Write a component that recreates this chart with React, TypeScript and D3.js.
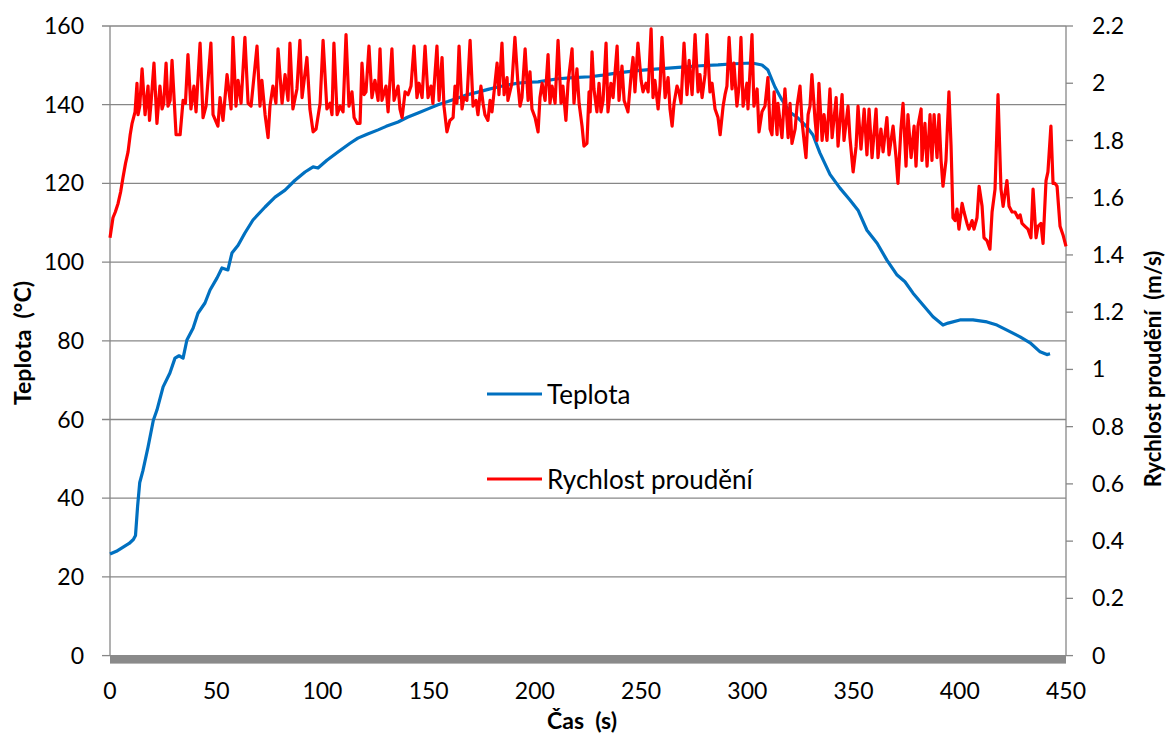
import React from "react";
import * as d3 from "d3";

// ---- data ----
const xTicks = [0, 50, 100, 150, 200, 250, 300, 350, 400, 450];
const leftTicks = [0, 20, 40, 60, 80, 100, 120, 140, 160];
const rightTicks = [0, 0.2, 0.4, 0.6, 0.8, 1, 1.2, 1.4, 1.6, 1.8, 2, 2.2];
const rightTickLabels = ["0", "0.2", "0.4", "0.6", "0.8", "1", "1.2", "1.4", "1.6", "1.8", "2", "2.2"];

const seriesNames = ["Teplota", "Rychlost proudění"];

// Teplota (°C) vs. time (s)
const tempTime = [0, 3, 6, 9, 11, 12, 13, 14, 15.5, 17.9, 20.4, 22.1, 25, 28.2, 30.6, 32.5, 34.4, 36.2, 39.1, 41.4, 44.7, 47.1, 50.4, 52.7, 55.5, 57.4, 60.3, 63.5, 67.3, 73, 77.7, 82.4, 87.1, 91.8, 95.6, 97.9, 102.1, 107.3, 113, 116.7, 121, 126.2, 130, 135.6, 140, 145, 150, 154.4, 159, 163.8, 168, 173.2, 178, 182.6, 187, 192.1, 197, 201.5, 206, 210.9, 218, 226, 232, 239.1, 247, 255.1, 263, 270.7, 278, 286.2, 294, 302.2, 306.9, 309.7, 313, 316.3, 320.1, 323.9, 328.1, 330.9, 334.2, 338.9, 343.6, 348.3, 352.1, 356.3, 361.1, 365.7, 370.5, 374.2, 378, 382.7, 387.4, 392.1, 394.5, 400.1, 406.2, 412.8, 417.5, 422.2, 428.4, 433.1, 437.8, 441, 442.5];
const tempValue = [25.8, 26.5, 27.5, 28.5, 29.5, 30.5, 38, 44, 47, 53, 59.8, 62.4, 68.3, 71.8, 75.6, 76.2, 75.6, 80.2, 83.2, 87, 89.6, 92.9, 96, 98.5, 98, 102.3, 104.3, 107.4, 110.7, 114, 116.5, 118.3, 120.8, 122.9, 124.2, 123.9, 125.9, 128, 130.2, 131.5, 132.5, 133.6, 134.5, 135.6, 136.8, 137.9, 139, 140, 140.8, 141.7, 142.5, 143.2, 143.9, 144.5, 145, 145.5, 145.7, 145.8, 146.2, 146.6, 146.9, 147.1, 147.5, 148.1, 148.6, 149, 149.3, 149.6, 149.9, 150.1, 150.4, 150.6, 150.1, 148.8, 144.5, 141.2, 138.1, 136.6, 134.3, 132.3, 127.7, 122.3, 118.8, 115.8, 113.2, 108.1, 104.8, 100.5, 96.7, 95, 92.1, 89.1, 86.1, 84, 84.5, 85.3, 85.3, 84.8, 84, 82.7, 81, 79.5, 77.2, 76.5, 76.7];

// Rychlost proudění (m/s) vs. time (s): [time, value]
const speed: [number, number][] = [
  [0, 1.46], [1.4, 1.53], [2.5, 1.55], [3.8, 1.58], [5, 1.62], [6.1, 1.67], [7.3, 1.72], [8.5, 1.76], [9.5, 1.82], [10.4, 1.86],
  [11.8, 1.9], [12.7, 2.0], [13.2, 1.89], [14, 1.92], [15.1, 2.05], [16.5, 1.89], [17.9, 1.99], [18.6, 1.87], [19.3, 1.93], [20.7, 2.07],
  [22.1, 1.86], [23.5, 1.99], [24.5, 1.91], [25.3, 1.93], [26.4, 2.07], [27.3, 1.92], [28.3, 1.94], [29.2, 2.08], [31.1, 1.82], [33.0, 1.82],
  [34.4, 1.94], [35.5, 1.93], [36.7, 2.1], [38.1, 1.91], [39.5, 1.99], [40.5, 1.9], [42.4, 2.14], [43.8, 1.88], [45.2, 1.92], [47.5, 2.14],
  [48.5, 1.89], [50.8, 1.85], [51.8, 1.95], [53.2, 1.87], [55.1, 2.03], [57.0, 1.91], [57.9, 2.16], [59.3, 1.92], [60.3, 2.01], [61.7, 1.93],
  [63.5, 2.16], [65.0, 1.93], [66.4, 1.92], [69.2, 2.13], [70.6, 1.92], [71.5, 2.01], [73.0, 1.89], [74.4, 1.81], [75.3, 1.92], [76.7, 1.99],
  [78.1, 1.93], [79.1, 2.12], [81.0, 1.93], [82.4, 2.03], [83.8, 1.94], [84.7, 2.14], [86.1, 1.91], [88.0, 1.98], [89.4, 2.15], [90.4, 1.95],
  [92.7, 2.09], [94.1, 1.91], [95.6, 1.83], [97.0, 1.84], [98.9, 1.93], [100.3, 2.15], [102.1, 1.91], [103.6, 1.93], [104.5, 1.89], [105.4, 2.14],
  [106.9, 1.89], [108.3, 1.92], [109.7, 1.9], [111.1, 2.17], [112.5, 1.92], [113.9, 1.97], [114.9, 1.88], [116.3, 1.86], [117.7, 1.86], [118.6, 2.07],
  [119.6, 1.96], [120.5, 1.97], [121.9, 2.13], [123.3, 1.95], [124.7, 2.01], [126.2, 1.94], [127.1, 2.12], [128.0, 1.94], [129.9, 1.99], [130.9, 1.9],
  [132.7, 2.12], [133.7, 1.94], [135.6, 1.99], [136.5, 1.91], [137.5, 1.88], [138.9, 1.97], [140.3, 1.96], [141.7, 1.99], [143.1, 2.13], [144.5, 1.95],
  [145.5, 2.0], [146.9, 1.95], [148.3, 2.13], [149.7, 1.95], [151.1, 1.99], [152.0, 1.93], [153.9, 2.13], [154.9, 1.94], [156.3, 2.09], [157.2, 1.92],
  [158.6, 1.83], [160.0, 1.87], [161.5, 1.88], [162.4, 1.99], [163.3, 1.93], [164.3, 2.13], [165.7, 1.91], [166.6, 1.95], [168.0, 1.94], [169.5, 2.15],
  [170.9, 1.92], [172.3, 1.94], [173.2, 1.89], [174.6, 1.99], [175.6, 1.93], [176.5, 1.89], [177.9, 1.87], [178.9, 1.94], [179.8, 1.9], [182.2, 2.07],
  [183.1, 1.96], [184.5, 2.14], [185.5, 1.96], [186.9, 2.02], [187.3, 1.94], [189.2, 2.0], [190.6, 2.16], [192.1, 1.99], [193.0, 1.92], [193.9, 1.95],
  [195.4, 2.12], [196.8, 1.94], [197.7, 2.04], [198.6, 1.91], [200.1, 1.88], [201.5, 1.83], [202.4, 1.95], [203.4, 2.0], [204.8, 1.94], [206.2, 2.1],
  [207.1, 1.93], [208.1, 1.99], [209.5, 1.93], [210.9, 2.15], [212.3, 1.93], [213.2, 1.99], [214.6, 1.87], [215.6, 2.0], [217.5, 2.12], [218.4, 1.93],
  [219.8, 2.05], [220.8, 1.93], [222.2, 1.85], [223.1, 1.78], [224.5, 1.79], [225.5, 1.97], [226.0, 1.9], [226.9, 2.11], [227.8, 1.98], [229.2, 1.9],
  [230.2, 2.0], [231.1, 1.9], [232.1, 1.94], [233.5, 2.14], [234.4, 1.9], [235.8, 2.0], [236.8, 1.95], [238.7, 2.13], [239.6, 1.94], [241.0, 2.06],
  [242.0, 1.94], [243.4, 1.91], [243.8, 1.9], [245.3, 2.03], [246.2, 2.09], [247.1, 1.97], [248.5, 2.14], [250.0, 2.01], [250.9, 1.97], [252.3, 2.0],
  [253.3, 1.97], [254.7, 2.19], [255.6, 1.95], [256.5, 2.01], [258.0, 1.91], [258.9, 1.99], [259.8, 2.16], [261.3, 1.95], [262.7, 2.02], [263.6, 1.91],
  [264.6, 1.85], [265.5, 1.93], [266.9, 1.99], [267.8, 1.97], [268.8, 1.93], [270.2, 2.14], [271.6, 1.96], [272.6, 2.08], [274.0, 1.96], [275.4, 2.17],
  [276.8, 1.97], [277.7, 2.03], [278.7, 1.95], [280.1, 2.03], [281.0, 2.17], [282.4, 1.97], [283.4, 2.0], [284.8, 1.91], [286.2, 1.88], [287.2, 1.82],
  [288.6, 1.92], [289.5, 1.96], [290.4, 1.99], [291.4, 2.16], [292.8, 1.98], [293.7, 2.07], [295.1, 1.92], [296.1, 1.99], [297.0, 2.16], [298.0, 1.92],
  [299.8, 2.0], [300.3, 1.91], [302.2, 2.17], [303.1, 1.92], [304.6, 1.98], [305.5, 1.83], [306.9, 1.9], [308.3, 1.92], [309.7, 2.02], [310.7, 1.84],
  [311.6, 1.82], [312.6, 1.97], [314.0, 1.82], [314.4, 1.93], [316.3, 1.81], [317.7, 1.98], [319.2, 1.81], [320.1, 1.93], [321.0, 1.79], [322.5, 1.84],
  [323.4, 1.92], [324.8, 1.99], [325.7, 1.87], [326.7, 1.8], [327.6, 1.74], [328.6, 1.89], [329.5, 1.92], [330.4, 2.03], [331.9, 1.87], [332.8, 1.8],
  [333.7, 2.0], [335.2, 1.8], [336.1, 1.89], [337.5, 1.8], [338.9, 1.98], [339.9, 1.81], [341.8, 1.95], [342.7, 1.78], [344.6, 1.96], [345.5, 1.8],
  [347.4, 1.92], [348.3, 1.81], [349.8, 1.69], [351.2, 1.78], [352.1, 1.92], [353.5, 1.77], [355.0, 1.91], [356.3, 1.75], [357.3, 1.91], [358.7, 1.74],
  [360.6, 1.91], [361.5, 1.74], [362.9, 1.84], [363.9, 1.76], [365.7, 1.88], [366.7, 1.75], [368.6, 1.85], [370.0, 1.74], [370.9, 1.65], [372.3, 1.84],
  [373.3, 1.93], [374.7, 1.71], [375.6, 1.89], [377.1, 1.74], [378.5, 1.85], [379.4, 1.71], [380.3, 1.85], [381.8, 1.91], [382.2, 1.73], [383.6, 1.86],
  [384.6, 1.71], [386.0, 1.89], [386.9, 1.73], [387.9, 1.89], [389.3, 1.74], [390.2, 1.89], [391.2, 1.73], [392.1, 1.64], [393.5, 1.73], [394.9, 1.97],
  [395.9, 1.78], [396.8, 1.53], [397.8, 1.52], [398.7, 1.56], [399.6, 1.49], [401.1, 1.58], [402.0, 1.55], [403.4, 1.51], [404.3, 1.49], [405.8, 1.52],
  [406.7, 1.49], [408.1, 1.53], [409.1, 1.64], [410.5, 1.57], [411.4, 1.46], [412.8, 1.45], [414.2, 1.42], [415.2, 1.55], [416.6, 1.63], [418.0, 1.96],
  [419.4, 1.63], [420.4, 1.57], [422.2, 1.66], [423.2, 1.57], [424.6, 1.55], [426.0, 1.55], [427.4, 1.53], [428.4, 1.54], [429.3, 1.51], [430.7, 1.5],
  [432.1, 1.49], [433.5, 1.46], [434.5, 1.63], [435.9, 1.46], [436.8, 1.5], [438.2, 1.51], [439.2, 1.44], [440.6, 1.66], [441.5, 1.69], [442.9, 1.85],
  [443.9, 1.65], [444.8, 1.65], [445.8, 1.64], [447.2, 1.5], [448.6, 1.47], [450.0, 1.43],
];

const W = 1166;
const H = 734;
const FONT = "Lato, 'Open Sans', sans-serif";

export default function App() {
  const x = d3.scaleLinear().domain([0, 450]).range([110, 1066]);
  const yL = d3.scaleLinear().domain([0, 160]).range([655.6, 26]);
  const yR = d3.scaleLinear().domain([0, 2.2]).range([655.6, 26]);

  const tempData = tempTime.map((t, i) => [t, tempValue[i]] as [number, number]);
  const tempLine = d3.line<[number, number]>().x((d) => x(d[0])).y((d) => yL(d[1]))(tempData) || "";
  const speedLine = d3.line<[number, number]>().x((d) => x(d[0])).y((d) => yR(d[1]))(speed) || "";

  const x0 = x(0);
  const x1 = x(450);
  const grid = "#878787";

  return (
    <svg width={W} height={H} style={{ position: "absolute", left: 0, top: 0, background: "#fff" }} fontFamily={FONT}>
      {/* gridlines + left ticks */}
      {leftTicks.filter((v) => v > 0).map((v) => (
        <line key={"g" + v} x1={102} x2={x1} y1={yL(v)} y2={yL(v)} stroke={grid} strokeWidth={1.3} />
      ))}
      <line x1={102} x2={x0} y1={yL(0)} y2={yL(0)} stroke={grid} strokeWidth={1.3} />
      {/* left axis line */}
      <line x1={x0} x2={x0} y1={yL(160)} y2={yL(0)} stroke={grid} strokeWidth={1.3} />
      {/* right axis line + ticks */}
      <line x1={x1} x2={x1} y1={yR(2.2)} y2={yR(0)} stroke={grid} strokeWidth={1.3} />
      {rightTicks.map((v) => (
        <line key={"rt" + v} x1={x1} x2={x1 + 7} y1={yR(v)} y2={yR(v)} stroke={grid} strokeWidth={1.3} />
      ))}
      {/* thick x-axis bar */}
      <rect x={x0} y={yL(0) - 0.6} width={x1 - x0} height={8.6} fill="#8a8a8a" />

      {/* series */}
      <path d={tempLine} fill="none" stroke="#0070C0" strokeWidth={3.2} strokeLinejoin="round" />
      <path d={speedLine} fill="none" stroke="#FF0000" strokeWidth={3.2} strokeLinejoin="round" />

      {/* left tick labels */}
      {leftTicks.map((v) => (
        <text key={"lt" + v} x={84} y={yL(v)} dy="0.35em" textAnchor="end" fontSize={23} fill="#000">
          {v}
        </text>
      ))}
      {/* right tick labels */}
      {rightTicks.map((v, i) => (
        <text key={"rl" + v} x={1092} y={yR(v)} dy="0.35em" textAnchor="start" fontSize={23} fill="#000">
          {rightTickLabels[i]}
        </text>
      ))}
      {/* x tick labels */}
      {xTicks.map((v) => (
        <text key={"xt" + v} x={x(v)} y={699} textAnchor="middle" fontSize={23} fill="#000">
          {v}
        </text>
      ))}

      {/* axis titles */}
      <text x={582} y={729} textAnchor="middle" fontSize={23} fontWeight="bold" fill="#000" style={{ whiteSpace: "pre" }}>
        {"Čas  (s)"}
      </text>
      <text transform="translate(31,343) rotate(-90)" textAnchor="middle" fontSize={23} fontWeight="bold" fill="#000" style={{ whiteSpace: "pre" }}>
        {"Teplota  (°C)"}
      </text>
      <text transform="translate(1161,369) rotate(-90)" textAnchor="middle" fontSize={22} fontWeight="bold" fill="#000" style={{ whiteSpace: "pre" }}>
        {"Rychlost proudění  (m/s)"}
      </text>

      {/* legend */}
      <line x1={487} x2={542} y1={394} y2={394} stroke="#0070C0" strokeWidth={3.2} />
      <text x={547} y={404} fontSize={26} fill="#000">{seriesNames[0]}</text>
      <line x1={487} x2={542} y1={479} y2={479} stroke="#FF0000" strokeWidth={3.2} />
      <text x={547} y={489} fontSize={26} fill="#000">{seriesNames[1]}</text>
    </svg>
  );
}
